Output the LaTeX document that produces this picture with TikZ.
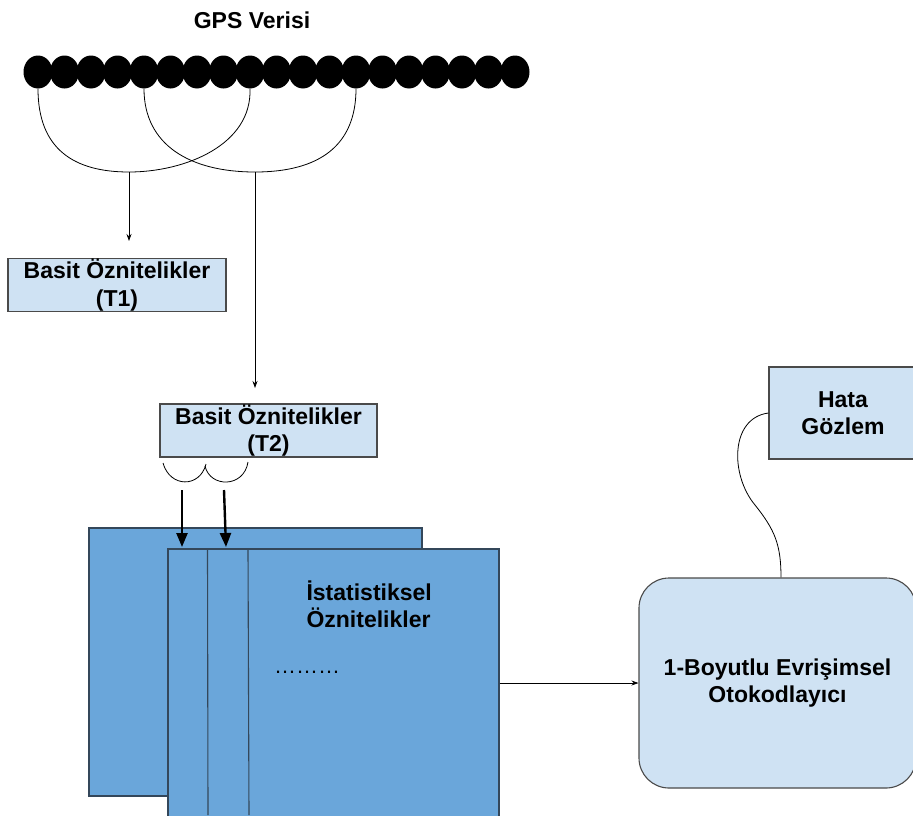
\documentclass[tikz,border=0pt]{standalone}
\usepackage{fontspec}
\setmainfont{Liberation Sans}
\usetikzlibrary{shapes.geometric,arrows.meta}
\definecolor{lightbox}{HTML}{CFE2F3}
\definecolor{bluebox}{HTML}{6AA6DA}
\definecolor{edgegray}{HTML}{4A4A4A}
\definecolor{edgeblue}{HTML}{34475A}
\tikzset{
  gpsdot/.style={ellipse, fill=black, minimum width=29pt, minimum height=33pt, inner sep=0pt},
  lbl/.style={font=\bfseries\fontsize{23}{27.5}\selectfont, align=center},
  featbox/.style={rectangle, draw=edgegray, line width=1.1pt, fill=lightbox, inner sep=0pt, lbl},
  sheet/.style={rectangle, draw=edgeblue, line width=1.1pt, fill=bluebox, inner sep=0pt},
  conn/.style={draw=black, line width=0.8pt},
  thinarrow/.style={conn, -{Stealth[length=7pt,width=5pt]}},
  thickarrow/.style={draw=black, line width=2.4pt, -{Triangle[length=14pt,width=11pt]}},
}
\begin{document}
\begin{tikzpicture}[x=1pt,y=-1pt]
\useasboundingbox (0,0) rectangle (913,815);
\fill[white] (0,0) rectangle (913,815);

% title
\node[lbl] (title) at (252,20) {GPS Verisi};

% GPS dots
\foreach \i in {1,...,19} {
  \node[gpsdot] (d\i) at ({38+26.5*(\i-1)},72) {};
}

% curves joining points
\coordinate (c1) at (129,172);
\coordinate (c2) at (255,172);
\draw[conn] (d1.south) .. controls (38,150) and (75,172) .. (c1)
  .. controls (185,172) and (252,145) .. (d9.south);
\draw[conn] (d5.south) .. controls (144,145) and (190,172) .. (c2)
  .. controls (320,172) and (356,145) .. (d13.south);

\coordinate (e1) at (129,241);
\coordinate (e2) at (255,388);
\draw[thinarrow] (c1) -- (e1);
\draw[thinarrow] (c2) -- (e2);

% feature boxes
\node[featbox, minimum width=218pt, minimum height=53pt] (t1) at (117,285) {Basit Öznitelikler\\(T1)};
\node[featbox, minimum width=217pt, minimum height=53pt] (t2) at (268.5,430.5) {Basit Öznitelikler\\(T2)};

% small arcs under T2
\coordinate (u1) at (163,463);
\coordinate (u2) at (206,464);
\coordinate (u3) at (205,466);
\coordinate (u4) at (248,462);
\draw[conn] (u1) .. controls (170,488) and (200,488) .. (u2);
\draw[conn] (u3) .. controls (210,488) and (244,488) .. (u4);

% sheets
\node[sheet, minimum width=333pt, minimum height=268pt] (back) at (255.5,662) {};
\node[sheet, minimum width=331pt, minimum height=272pt] (front) at (333.5,685) {};
\coordinate (v1t) at (207.5,549);
\coordinate (v1b) at (208,815);
\coordinate (v2t) at (248,549);
\coordinate (v2b) at (249,815);
\draw[draw=edgeblue, line width=1.1pt] (v1t) -- (v1b);
\draw[draw=edgeblue, line width=1.1pt] (v2t) -- (v2b);

\node[lbl, align=left, anchor=north west] (stat) at (303,577) {İstatistiksel\\Öznitelikler};
\node[font=\fontsize{22}{26}\selectfont, anchor=base west, inner sep=0pt] (dots) at (274,673) {………};

% thick arrows
\coordinate (k1) at (182,490);
\coordinate (k2) at (224,490);
\coordinate (k1e) at (182,547);
\coordinate (k2e) at (226,547);
\draw[thickarrow] (k1) -- (k1e);
\draw[thickarrow] (k2) -- (k2e);

% autoencoder
\node[featbox, rounded corners=30pt, minimum width=277pt, minimum height=210pt] (ae) at (777.5,683) {1-Boyutlu Evrişimsel\\Otokodlayıcı};
\draw[thinarrow] (front.east |- ae.west) -- (ae.west);

% Hata Gözlem
\node[featbox, minimum width=148pt, minimum height=92pt] (hata) at (843,413) {Hata\\Gözlem};
\coordinate (s1) at (755,505);
\draw[conn] (hata.west) .. controls (730,418) and (730,475) .. (s1)
  .. controls (775,530) and (781,545) .. (ae.north -| 781,0);
\end{tikzpicture}
\end{document}
